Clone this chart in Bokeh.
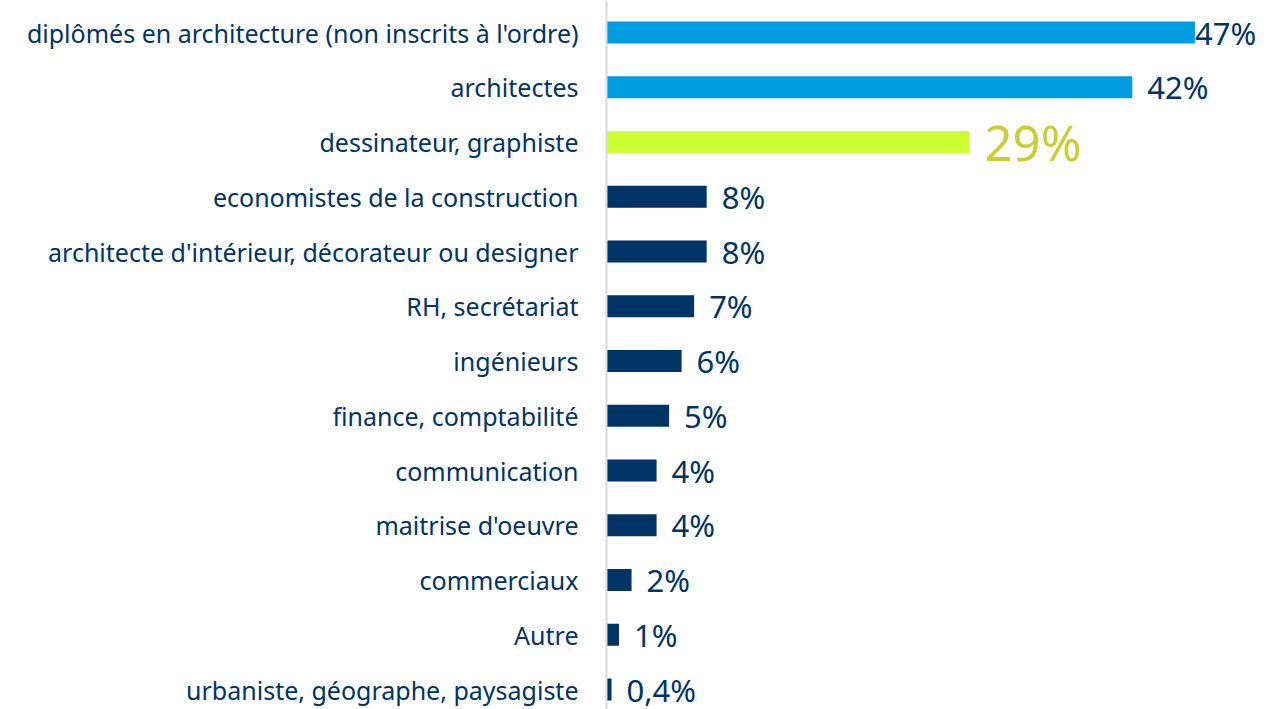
from bokeh.plotting import figure
from bokeh.models import ColumnDataSource, Range1d, FixedTicker
from bokeh.core.properties import value
from bokeh.embed import file_html
from bokeh.resources import INLINE

categories = [
    "diplômés en architecture (non inscrits à l'ordre)",
    "architectes",
    "dessinateur, graphiste",
    "economistes de la construction",
    "architecte d'intérieur, décorateur ou designer",
    "RH, secrétariat",
    "ingénieurs",
    "finance, comptabilité",
    "communication",
    "maitrise d'oeuvre",
    "commerciaux",
    "Autre",
    "urbaniste, géographe, paysagiste",
]
values = [47, 42, 29, 8, 8, 7, 6, 5, 4, 4, 2, 1, 0.4]
value_labels = ["47%", "42%", "29%", "8%", "8%", "7%", "6%", "5%", "4%", "4%", "2%", "1%", "0,4%"]

BLUE = "#009ee0"
LIME = "#ccff33"
NAVY = "#003366"
LIME_TEXT = "#cccc33"

n = len(categories)
ys = list(range(n))
bar_colors = [BLUE, BLUE, LIME] + [NAVY] * (n - 3)
text_colors = [NAVY, NAVY, LIME_TEXT] + [NAVY] * (n - 3)
text_sizes = ["31px", "31px", "49px"] + ["31px"] * (n - 3)
vmax = max(values)
x_offsets = [0 if v == vmax else 15 for v in values]

src = ColumnDataSource(dict(
    y=ys, value=values, label=value_labels, color=bar_colors,
    tcolor=text_colors, tsize=text_sizes, xoff=x_offsets,
))

W, H = 1273, 709
LEFT = 606
px_per_unit_x = 12.52
row_step = 54.75
first_row = 32

p = figure(
    width=W, height=H,
    output_backend="svg", toolbar_location=None,
    x_axis_location=None,
    x_range=Range1d(0, (W - LEFT) / px_per_unit_x),
    y_range=Range1d((H - first_row) / row_step, -first_row / row_step),
    min_border_left=LEFT, min_border_right=0, min_border_top=0, min_border_bottom=0,
)
p.outline_line_color = None
p.xgrid.grid_line_color = None
p.ygrid.grid_line_color = None
p.background_fill_color = "white"
p.border_fill_color = "white"

p.hbar(y="y", left=0, right="value", height=22 / row_step,
       fill_color="color", line_color=None, source=src)

p.text(x="value", y="y", text="label", x_offset="xoff",
       text_color="tcolor", text_font_size="tsize",
       text_baseline="middle", text_align="left",
       text_font=value("Noto Sans"), source=src)

ax = p.yaxis[0]
ax.ticker = FixedTicker(ticks=ys)
ax.major_label_overrides = {i: c for i, c in zip(ys, categories)}
ax.major_tick_line_color = None
ax.minor_tick_line_color = None
ax.axis_line_color = "#d9d9d9"
ax.axis_line_width = 2
ax.major_label_standoff = 22
ax.major_label_text_font = "Noto Sans"
ax.major_label_text_font_size = "25px"
ax.major_label_text_color = NAVY

open("out.html", "w").write(file_html(p, INLINE))
